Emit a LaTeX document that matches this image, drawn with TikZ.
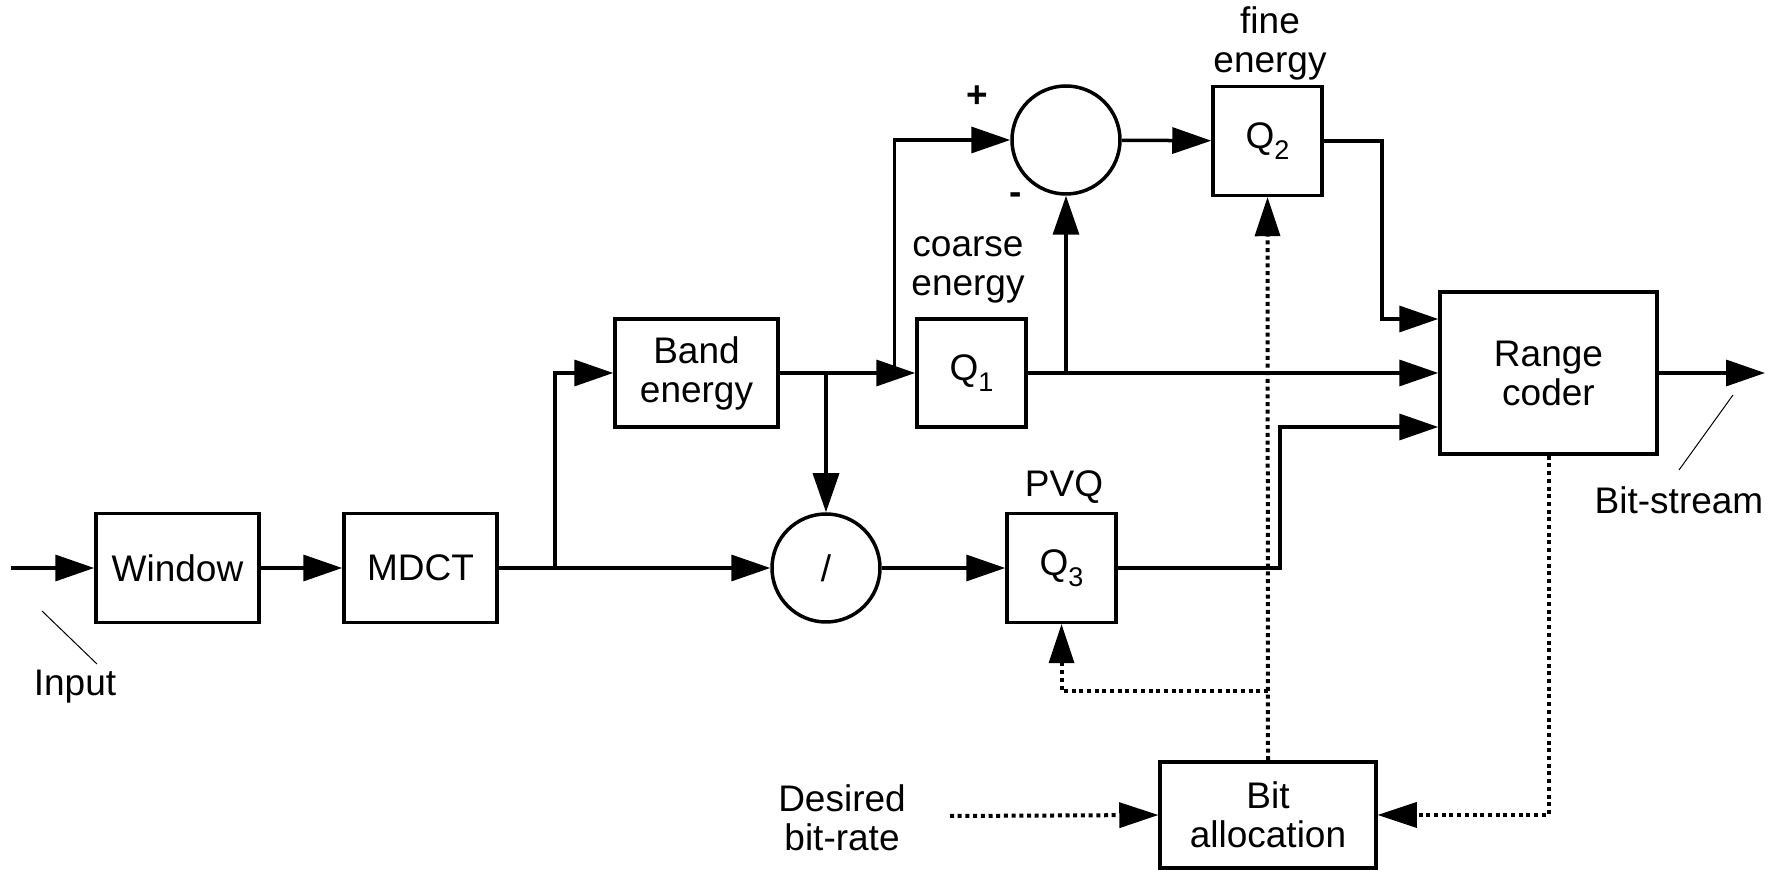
\documentclass[tikz,border=0pt]{standalone}
\usepackage{fontspec}
\setmainfont{Liberation Sans}
\usetikzlibrary{arrows.meta,calc}
\newcommand{\qsub}[1]{Q\raisebox{-5.5pt}{\fontsize{13.5}{13.5}\selectfont #1}}
\begin{document}
\begin{tikzpicture}[x=0.5pt,y=-0.5pt,
  font=\fontsize{18.5}{19.5}\selectfont,
  line width=1.75pt,
  blk/.style={draw,line width=1.75pt,inner sep=0pt,align=center},
  circ/.style={draw,circle,line width=1.75pt,inner sep=0pt,minimum size=54pt},
  arr/.style={-{Triangle[length=19.5pt,width=13pt]}},
  darr/.style={-{Triangle[length=19.5pt,width=13pt,line width=0pt]},line width=2pt,dash pattern=on 2pt off 1.85pt},
  lead/.style={line width=0.5pt},
  lbl/.style={align=center,inner sep=0pt}]
\useasboundingbox (0,0) rectangle (1769,870);
% blocks
\node[blk,minimum width=81.5pt,minimum height=54.5pt] (win) at (177.5,568) {Window};
\node[blk,minimum width=76.5pt,minimum height=54.5pt] (mdct) at (420.5,568) {MDCT};
\node[blk,minimum width=81.5pt,minimum height=54pt] (band) at (696.5,373) {Band\\energy};
\node[blk,minimum width=54.5pt,minimum height=54pt] (q1) at (971.5,373) {\qsub{1}};
\node[circ] (sum) at (1066,140) {};
\node[blk,minimum width=54.5pt,minimum height=54.5pt] (q2) at (1267.5,141) {\qsub{2}};
\node[blk,minimum width=108.5pt,minimum height=81pt] (rc) at (1548.5,373) {Range\\coder};
\node[circ] (div) at (826,568) {/};
\node[blk,minimum width=54.5pt,minimum height=54.5pt] (q3) at (1061.5,568) {\qsub{3}};
\node[blk,minimum width=108pt,minimum height=53pt] (ba) at (1268,815) {Bit\\allocation};
% labels
\node[lbl] (linput) at (75,687) {Input};
\node[lbl] (lbits) at (1679,500) {Bit-stream};
\node[lbl] (lcoarse) at (968,270) {coarse\\energy};
\node[lbl] (lfine) at (1270,43) {fine\\energy};
\node[lbl] (lpvq) at (1064,487) {PVQ};
\node[lbl] (ldes) at (842,818) {Desired\\bit-rate};
\node[lbl] (lplus) at (977,97) {\textbf{+}};
\node[lbl] (lminus) at (1016,199) {\textbf{-}};
% coordinates
\coordinate (in) at (11,568);
\coordinate (out) at (1765,373);
\coordinate (j1) at (555,568);
\coordinate (j2) at (826,373);
\coordinate (j3) at (894.5,373);
\coordinate (j4) at (1066,373);
\coordinate (k1) at (1382,141);
\coordinate (k2) at (1280,568);
\coordinate (bj) at (1268,691);
\coordinate (dsrc) at (950,816);
% connectors
\draw[arr] (in) -- (win);
\draw[arr] (win) -- (mdct);
\draw[arr] (mdct) -- (div);
\draw[arr] (j1) |- (band.west);
\draw[arr] (band) -- (q1);
\draw[arr] (j2) -- (div.north);
\draw[arr] (j3) |- (sum.west);
\draw[arr] (q1.east) -- (rc.west);
\draw[arr] (j4) -- (sum.south);
\draw[arr] (sum) -- (q2);
\draw[arr] (q2.east) -- (k1) |- ($(rc.west)+(0,-54)$);
\draw[arr] (div) -- (q3);
\draw[arr] (q3.east) -- (k2) |- ($(rc.west)+(0,54)$);
\draw[arr] (rc.east) -- (out);
% dotted
\draw[darr] (ba.north) -- (q2.south);
\draw[darr] (bj) -| (q3.south);
\draw[darr] (dsrc) -- (ba.west);
\draw[darr] (rc.south) |- (ba.east);
% leaders
\draw[lead] (42,611) -- (97,664);
\draw[lead] (1733,395) -- (1679,470);
\end{tikzpicture}
\end{document}
